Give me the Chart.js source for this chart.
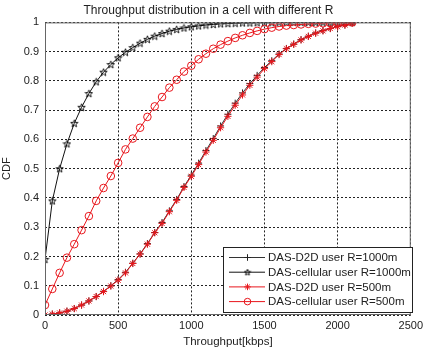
<!DOCTYPE html>
<html>
<head>
<meta charset="utf-8">
<script src="https://cdn.jsdelivr.net/npm/chart.js@4.4.1/dist/chart.umd.min.js"></script>
<style>
  html, body { margin: 0; padding: 0; background: #fff; }
  #wrap { width: 427px; height: 349px; }
</style>
</head>
<body>
<div id="wrap"><canvas id="cdfChart" width="427" height="349"></canvas></div>
<script>
// throughput samples (kbps)
const throughput = [0, 50, 100, 150, 200, 250, 300, 350, 400, 450, 500, 550, 600, 650, 700, 750, 800, 850, 900, 950,
  1000, 1050, 1100, 1150, 1200, 1250, 1300, 1350, 1400, 1450, 1500, 1550, 1600, 1650, 1700, 1750, 1800, 1850, 1900, 1950,
  2000, 2050, 2100];

// CDF values
const d2d1000 = [0.0, 0.003, 0.007, 0.013, 0.022, 0.034, 0.048, 0.063, 0.081, 0.100, 0.121, 0.146, 0.177, 0.209, 0.244, 0.282, 0.316, 0.356, 0.395, 0.439,
  0.478, 0.519, 0.562, 0.603, 0.646, 0.686, 0.724, 0.759, 0.791, 0.819, 0.846, 0.869, 0.892, 0.911, 0.926, 0.941, 0.953, 0.964, 0.972, 0.979,
  0.986, 0.991, 0.998];
const cell1000 = [0.19, 0.39, 0.50, 0.585, 0.655, 0.71, 0.757, 0.797, 0.83, 0.856, 0.879, 0.898, 0.914, 0.929, 0.942, 0.953, 0.962, 0.97, 0.976, 0.981,
  0.985, 0.988, 0.991, 0.993, 0.995, 0.996, 0.997, 0.998, 0.998, 0.999, 0.999, 0.999, 1.0, 1.0, 1.0, 1.0, 1.0, 1.0, 1.0, 1.0,
  1.0, 1.0, 1.0];
const d2d500 = [0.0, 0.003, 0.007, 0.013, 0.022, 0.034, 0.048, 0.063, 0.08, 0.099, 0.119, 0.144, 0.176, 0.208, 0.242, 0.281, 0.313, 0.353, 0.392, 0.436,
  0.474, 0.514, 0.557, 0.597, 0.64, 0.679, 0.717, 0.752, 0.785, 0.813, 0.842, 0.866, 0.89, 0.91, 0.925, 0.94, 0.952, 0.963, 0.971, 0.979,
  0.985, 0.991, 0.998];
const cell500 = [0.034, 0.089, 0.144, 0.196, 0.242, 0.29, 0.338, 0.39, 0.434, 0.475, 0.52, 0.566, 0.603, 0.64, 0.677, 0.713, 0.745, 0.777, 0.804, 0.832,
  0.852, 0.874, 0.893, 0.91, 0.924, 0.936, 0.947, 0.956, 0.964, 0.971, 0.977, 0.982, 0.986, 0.989, 0.991, 0.993, 0.995, 0.996, 0.997, 0.998,
  0.999, 0.999, 1.0];

const seriesNames = ['DAS-D2D user R=1000m', 'DAS-cellular user R=1000m', 'DAS-D2D user R=500m', 'DAS-cellular user R=500m'];
const xTicks = [0, 500, 1000, 1500, 2000, 2500];

const RED = 'rgb(232, 22, 28)';
const FONT = '"Liberation Sans", Arial, sans-serif';

// matlab style pentagram marker (small outlined star)
function makePentagram(size, outer, inner) {
  const c = document.createElement('canvas');
  c.width = size; c.height = size;
  const g = c.getContext('2d');
  g.strokeStyle = '#000';
  g.lineWidth = 0.9;
  g.beginPath();
  for (let i = 0; i < 10; i++) {
    const r = i % 2 === 0 ? outer : inner;
    const a = -Math.PI / 2 + i * Math.PI / 5;
    const px = size / 2 + r * Math.cos(a), py = size / 2 + 0.3 + r * Math.sin(a);
    if (i === 0) g.moveTo(px, py); else g.lineTo(px, py);
  }
  g.closePath();
  g.stroke();
  return c;
}
const pentagram = makePentagram(9, 3.9, 1.6);
const pentagramSmall = makePentagram(8, 3.3, 1.4);

const pts = (ys) => ys.map((y, i) => ({ x: throughput[i], y: y }));

// box around the axes + legend in the lower right corner
const frameAndLegend = {
  id: 'frameAndLegend',
  afterDraw(chart) {
    const { ctx, chartArea: a } = chart;
    ctx.save();
    ctx.strokeStyle = '#666';
    ctx.lineWidth = 1;
    ctx.strokeRect(a.left + 0.5, a.top + 0.5, a.right - a.left - 1, a.bottom - a.top - 1);

    const x0 = 223, y0 = 247, w = 189, h = 65;
    ctx.fillStyle = '#fff';
    ctx.fillRect(x0, y0, w, h);
    ctx.strokeStyle = '#222';
    ctx.strokeRect(x0 + 0.5, y0 + 0.5, w, h);

    ctx.font = '11.5px ' + FONT;
    ctx.textBaseline = 'middle';
    chart.data.datasets.forEach((ds, i) => {
      const y = y0 + 10.5 + i * 14.7;
      ctx.strokeStyle = ds.borderColor;
      ctx.lineWidth = 1;
      ctx.beginPath();
      ctx.moveTo(x0 + 6, y);
      ctx.lineTo(x0 + 42, y);
      ctx.stroke();
      ctx.strokeStyle = ds.pointBorderColor;
      ctx.fillStyle = 'rgba(0,0,0,0)';
      const style = ds.pointStyle === pentagram ? pentagramSmall : ds.pointStyle;
      Chart.helpers.drawPoint(ctx, { pointStyle: style, radius: 3.3, borderWidth: 1, rotation: 0 }, x0 + 24.5, y);
      ctx.fillStyle = '#222';
      ctx.fillText(ds.label, x0 + 45, y + 0.5);
    });
    ctx.restore();
  }
};

new Chart(document.getElementById('cdfChart'), {
  type: 'line',
  data: {
    datasets: [
      {
        label: seriesNames[0],
        data: pts(d2d1000),
        borderColor: '#333',
        pointBorderColor: '#222',
        pointStyle: 'cross',
        pointRadius: 3.5,
        order: 4,
      },
      {
        label: seriesNames[1],
        data: pts(cell1000),
        borderColor: '#111',
        pointBorderColor: '#111',
        pointStyle: pentagram,
        pointRadius: 4,
        order: 3,
      },
      {
        label: seriesNames[2],
        data: pts(d2d500),
        borderColor: RED,
        pointBorderColor: RED,
        pointStyle: 'star',
        pointRadius: 3.6,
        order: 2,
      },
      {
        label: seriesNames[3],
        data: pts(cell500),
        borderColor: RED,
        pointBorderColor: RED,
        pointStyle: 'circle',
        pointRadius: 3.8,
        order: 1,
      },
    ].map((d) => Object.assign({
      borderWidth: 1,
      pointBorderWidth: 1,
      pointBackgroundColor: 'rgba(0,0,0,0)',
      tension: 0,
      fill: false,
    }, d)),
  },
  options: {
    responsive: false,
    animation: false,
    layout: { padding: { top: 0, right: 10, bottom: 0, left: 0 } },
    plugins: {
      legend: { display: false },
      tooltip: { enabled: false },
      title: {
        display: true,
        text: 'Throughput distribution in a cell with different R',
        color: '#222',
        font: { family: FONT, size: 12, weight: 'normal' },
        padding: { top: 3, bottom: 5 },
      },
    },
    scales: {
      x: {
        type: 'linear',
        min: 0,
        max: 2500,
        afterBuildTicks: (scale) => { scale.ticks = xTicks.map((v) => ({ value: v })); },
        afterFit: (scale) => { scale.height = 34; },
        grid: { color: '#222', drawTicks: false, lineWidth: 1 },
        border: { display: false, dash: [2, 2] },
        ticks: {
          color: '#222', padding: 4, font: { family: FONT, size: 11 }, maxRotation: 0,
          callback: (v) => String(v),
        },
        title: {
          display: true,
          text: 'Throughput[kbps]',
          color: '#222',
          font: { family: FONT, size: 11.5 },
          padding: { top: 1, bottom: 0 },
        },
      },
      y: {
        min: 0,
        max: 1,
        afterFit: (scale) => { scale.width = 45; },
        grid: { color: '#222', drawTicks: false, lineWidth: 1 },
        border: { display: false, dash: [2, 2] },
        ticks: {
          stepSize: 0.1, color: '#222', padding: 6, font: { family: FONT, size: 11 },
          callback: (v) => String(Math.round(v * 10) / 10),
        },
        title: {
          display: true,
          text: 'CDF',
          color: '#222',
          font: { family: FONT, size: 11 },
          padding: { top: 0, bottom: 0 },
        },
      },
    },
  },
  plugins: [frameAndLegend],
});
</script>
</body>
</html>
